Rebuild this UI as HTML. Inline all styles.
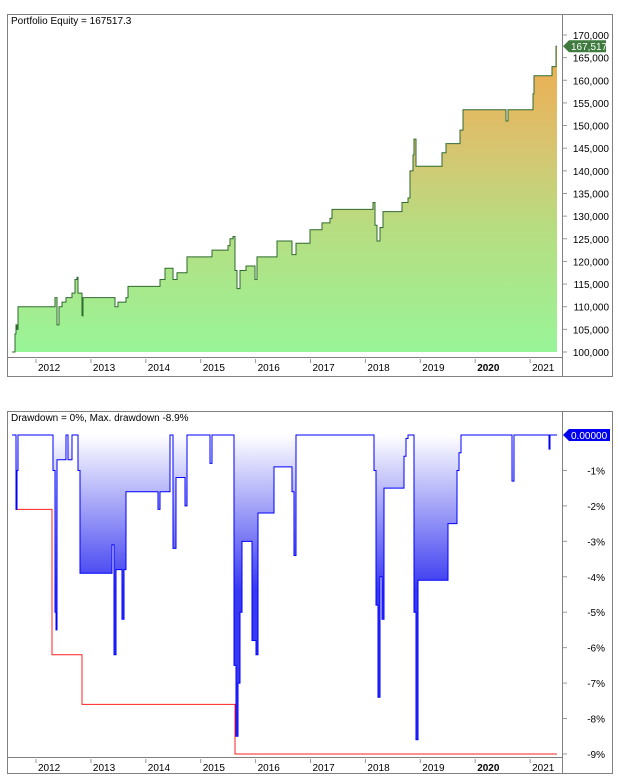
<!DOCTYPE html>
<html><head><meta charset="utf-8"><style>
body{margin:0;background:#fff}
svg{display:block;font-family:"Liberation Sans",sans-serif;font-size:10px}
</style></head><body>
<svg id="chart" width="618" height="783" viewBox="0 0 618 783" xmlns="http://www.w3.org/2000/svg">
<defs>
<linearGradient id="eq" x1="0" y1="35" x2="0" y2="352" gradientUnits="userSpaceOnUse">
<stop offset="0" stop-color="#f2a848"/><stop offset="0.35" stop-color="#d8c470"/><stop offset="0.6" stop-color="#b8dc80"/><stop offset="1" stop-color="#98f598"/>
</linearGradient>
<linearGradient id="dd" x1="0" y1="435" x2="0" y2="590" gradientUnits="userSpaceOnUse">
<stop offset="0" stop-color="#ffffff"/><stop offset="1" stop-color="#3838f0"/>
</linearGradient>
</defs>
<g id="gtop"></g>
<g id="gbot"></g>
</svg>
<script>
(function(){
var NS="http://www.w3.org/2000/svg";
function el(p,t,a,txt){var e=document.createElementNS(NS,t);for(var k in a)e.setAttribute(k,a[k]);if(txt!=null)e.textContent=txt;p.appendChild(e);return e;}
var tg=document.getElementById('gtop'),bg=document.getElementById('gbot');
function fmt(v){return String(v).replace(/\B(?=(\d{3})+(?!\d))/g,',');}
[[14,376,357],[411,773,757]].forEach(function(f){
 el(tg,'rect',{x:7.5,y:f[0]+.5,width:605,height:f[1]-f[0],fill:'none',stroke:'#808080'});
 el(tg,'line',{x1:562.5,y1:f[0],x2:562.5,y2:f[1],stroke:'#808080'});
 el(tg,'line',{x1:7,y1:f[2]+.5,x2:562,y2:f[2]+.5,stroke:'#808080'});
 for(var i=0;i<10;i++){var x=36+i*54.9;
  el(tg,'line',{x1:x,y1:f[2]+2,x2:x,y2:f[2]+6,stroke:'#999'});
  el(tg,'text',{x:x+2,y:f[2]+14,fill:'#000','font-weight':i==8?'bold':'normal'},String(2012+i));}
});
el(tg,'text',{x:11,y:24},'Portfolio Equity = 167517.3');
el(tg,'text',{x:11,y:421},'Drawdown = 0%, Max. drawdown -8.9%');
function vy(v){return 352-(v-100000)*0.004529;}
for(var v=100000;v<=170000;v+=5000){var y=vy(v);
 el(tg,'line',{x1:563,y1:y,x2:567,y2:y,stroke:'#999'});
 el(tg,'text',{x:609,y:y+4,'text-anchor':'end'},fmt(v));}
var E=[12,100000,14,100000,15,104000,16,106000,17,105000,18,110000,53,110000,55,112000,57,106000,59,110000,62,111000,66,112000,72,113000,75,116000,77,116500,78,113000,82,108000,83,112000,112,112000,115,110000,118,111000,126,112000,128,114500,158,114500,160,116000,165,118500,170,118500,173,116000,177,117500,186,117500,187,121000,210,121000,212,122500,228,123500,230,125000,233,125500,235,118000,237,114000,240,118000,246,119000,250,119000,255,116000,257,121000,275,121000,277,124500,290,124500,292,121500,296,124000,308,124000,310,127000,320,127000,322,128500,330,129500,332,131500,370,131500,373,133000,375,128000,377,124500,380,127500,383,131000,400,131000,402,133000,408,134000,410,140000,413,143500,414,147000,416,141000,418,141000,440,141000,442,144000,446,146000,460,149000,463,153500,504,153500,506,151000,508,153500,530,153500,533,157000,534,161000,550,161000,552,163000,555,163000,556,167517,557,167517];
var pts=[],prev=null,i,x,y;
for(i=0;i<E.length;i+=2){x=E[i];y=vy(E[i+1]);if(prev!==null)pts.push(x+','+prev);pts.push(x+','+y);prev=y;}
el(tg,'polygon',{points:'12,352 '+pts.join(' ')+' 557,352',fill:'url(#eq)'});
el(tg,'polyline',{points:pts.join(' '),fill:'none',stroke:'#2f6a2f','stroke-width':1});
var ly=vy(167517);
el(tg,'polygon',{points:'563,'+ly+' 569,'+(ly-6)+' 606,'+(ly-6)+' 606,'+(ly+6)+' 569,'+(ly+6),fill:'#3f7a3f'});
el(tg,'text',{x:571,y:ly+4,fill:'#fff'},'167,517');
function dy(d){return 435-d*35.44;}
for(var d=0;d>=-9;d--){y=dy(d);
 el(tg,'line',{x1:563,y1:y,x2:567,y2:y,stroke:'#999'});
 if(d<0)el(tg,'text',{x:605,y:y+4,'text-anchor':'end'},d+'%');}
var D=[12,0,15,0,16,-2.1,17,-1,18,0,52,0,53,-1,55,-5,56,-5.5,57,-0.7,64,-0.7,66,0,68,-0.7,70,-0.7,72,0,76,0,78,-1,80,-3.9,110,-3.9,112,-3.1,114,-6.2,116,-3.8,120,-3.8,122,-5.2,124,-3.8,126,-1.6,156,-1.6,158,-2.1,160,-1.6,170,0,172,0,173,-3.2,176,-1.2,180,-1.2,185,-2,187,0,208,0,210,-0.8,212,0,232,0,234,-6.5,236,-8.5,238,-7,240,-5,242,-3,248,-3,252,-5.8,256,-6.2,258,-2.2,270,-2.2,274,-0.9,290,-0.9,292,-1.6,294,-3.4,296,0,372,0,374,-1,376,-4.8,378,-7.4,380,-4,382,-5.2,384,-1.5,400,-1.5,404,-0.6,406,-0.1,408,0,412,0,414,-5,416,-8.6,418,-4.1,445,-4.1,448,-2.5,455,-2.5,457,-1,459,-0.5,461,0,510,0,512,-1.3,514,0,548,0,549,-0.4,550,0,557,0];
pts=[];prev=null;
for(i=0;i<D.length;i+=2){x=D[i];y=dy(D[i+1]);if(prev!==null)pts.push(x+','+prev);pts.push(x+','+y);prev=y;}
el(bg,'polygon',{points:'12,435 '+pts.join(' ')+' 557,435',fill:'url(#dd)'});
el(bg,'polyline',{points:'16,435 16,'+dy(-2.1)+' 52,'+dy(-2.1)+' 52,'+dy(-6.2)+' 82,'+dy(-6.2)+' 82,'+dy(-7.6)+' 235,'+dy(-7.6)+' 235,'+dy(-9)+' 557,'+dy(-9),fill:'none',stroke:'#ff2020'});
el(bg,'polyline',{points:pts.join(' '),fill:'none',stroke:'#0000ff','stroke-width':1});
el(bg,'polygon',{points:'563,435 569,429 610,429 610,441 569,441',fill:'#0000ee'});
el(bg,'text',{x:571,y:439,fill:'#fff'},'0.00000');
})();
</script>
</body></html>
